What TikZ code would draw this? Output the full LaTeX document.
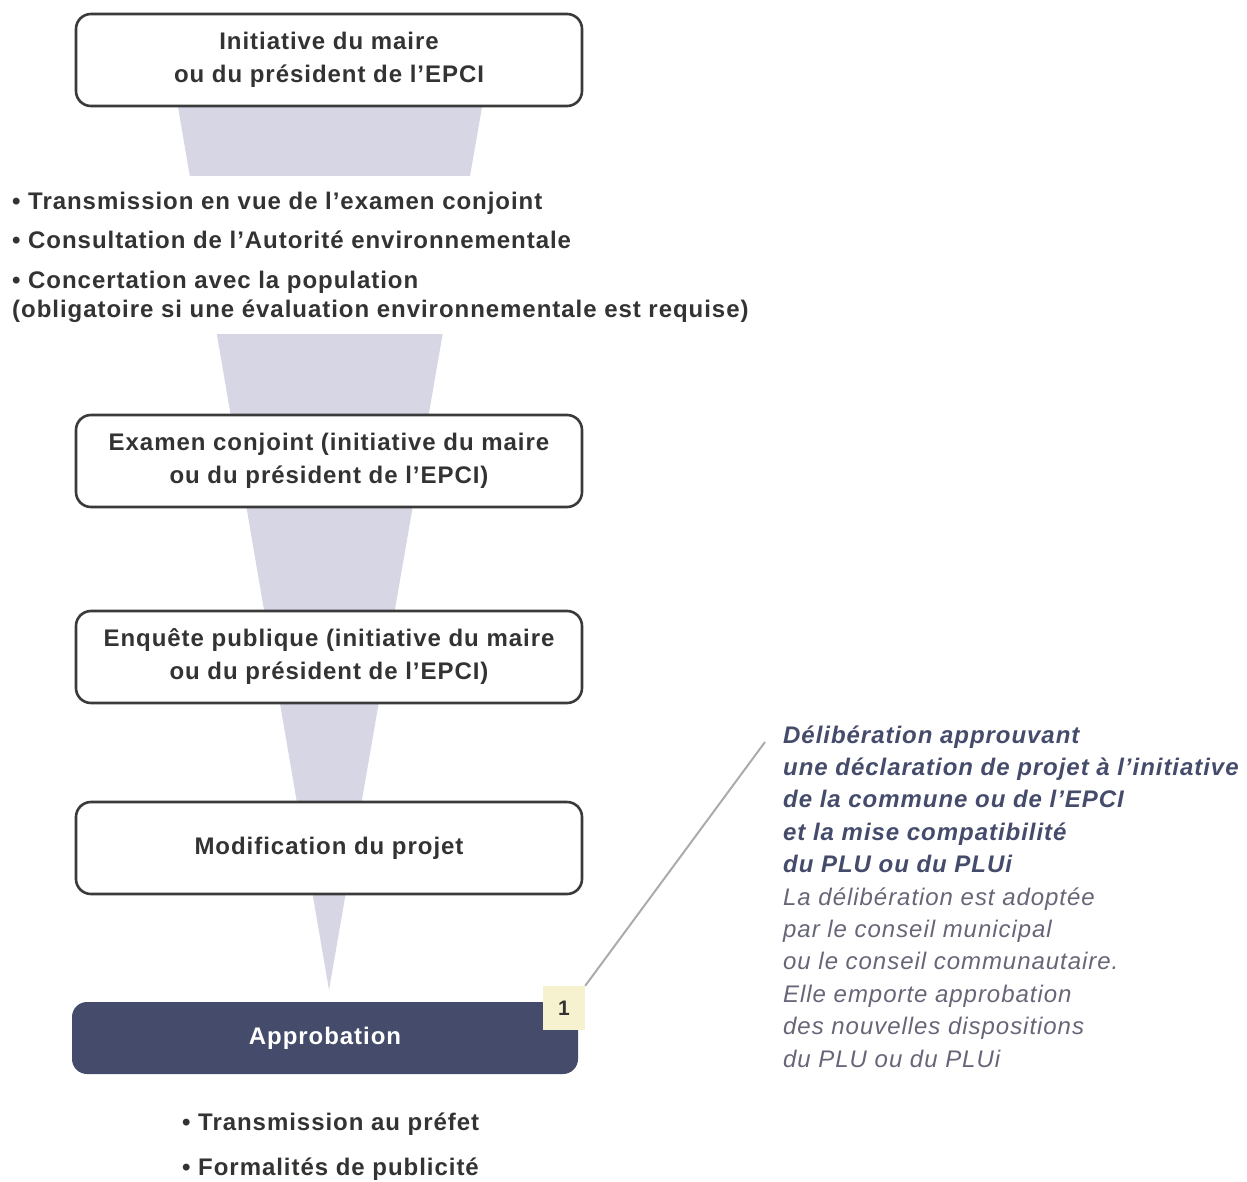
\documentclass[tikz,border=0pt]{standalone}
\usepackage{fontspec}
\setmainfont{Liberation Sans}[LetterSpace=4]
\definecolor{funnel}{HTML}{D6D6E4}
\definecolor{navy}{HTML}{454C6B}
\definecolor{txt}{HTML}{333333}
\definecolor{bord}{HTML}{3A3A3A}
\definecolor{badge}{HTML}{F6F1CF}
\definecolor{lead}{HTML}{ABABAB}
\definecolor{soft}{HTML}{666678}
\tikzset{
  stepbox/.style={draw=bord, line width=2.6pt, rounded corners=15pt, fill=white,
    minimum width=506pt, minimum height=92pt, align=center, text=txt,
    font=\fontsize{24}{33}\selectfont\bfseries},
  bul/.style={anchor=base west, inner sep=0pt, text=txt, font=\fontsize{24}{30}\selectfont\bfseries},
  rbold/.style={anchor=base west, inner sep=0pt, text=navy, font=\fontsize{24}{30}\selectfont\bfseries\itshape},
  rlight/.style={anchor=base west, inner sep=0pt, text=soft, font=\fontsize{24}{30}\selectfont\itshape},
}
\begin{document}
\begin{tikzpicture}[x=1pt,y=-1pt]
\useasboundingbox (0,0) rectangle (1247,1182);
% funnel
\fill[funnel] (178,107) -- (482,107) -- (329,990) -- cycle;
% white band behind bullet text
\fill[white] (0,176) rectangle (610,334);
% boxes
\node[stepbox] (b1) at (329,60) {Initiative du maire\\ou du président de l’EPCI};
\node[stepbox] (b2) at (329,461) {Examen conjoint (initiative du maire\\ou du président de l’EPCI)};
\node[stepbox] (b3) at (329,657) {Enquête publique (initiative du maire\\ou du président de l’EPCI)};
\node[stepbox] (b4) at (329,848) {Modification du projet};
\node[fill=navy, rounded corners=15pt, minimum width=506pt, minimum height=72pt,
  text=white, font=\fontsize{24}{30}\selectfont\bfseries] (ap) at (325,1038) {Approbation};
% badge
\node[fill=badge, minimum width=42pt, minimum height=44pt, inner sep=0pt,
  text=txt, font=\fontsize{21}{26}\selectfont\bfseries] (bd) at (564,1008) {1};
% leader line
\coordinate (lt) at (765,742);
\draw[lead, line width=2pt] (bd.north east) -- (lt);
% top bullets
\node[bul] (t1) at (12,210) {• Transmission en vue de l’examen conjoint};
\node[bul] (t2) at (12,249) {• Consultation de l’Autorité environnementale};
\node[bul] (t3) at (12,288) {• Concertation avec la population};
\node[bul] (t4) at (12,317) {(obligatoire si une évaluation environnementale est requise)};
% bottom bullets
\node[bul] (u1) at (182,1130) {• Transmission au préfet};
\node[bul] (u2) at (182,1175) {• Formalités de publicité};
% right text
\node[rbold] (r1) at (783,743) {Délibération approuvant};
\node[rbold] (r2) at (783,775.4) {une déclaration de projet à l’initiative};
\node[rbold] (r3) at (783,807.8) {de la commune ou de l’EPCI};
\node[rbold] (r4) at (783,840.2) {et la mise compatibilité};
\node[rbold] (r5) at (783,872.6) {du PLU ou du PLUi};
\node[rlight] (r6) at (783,905) {La délibération est adoptée};
\node[rlight] (r7) at (783,937.4) {par le conseil municipal};
\node[rlight] (r8) at (783,969.8) {ou le conseil communautaire.};
\node[rlight] (r9) at (783,1002.2) {Elle emporte approbation};
\node[rlight] (r10) at (783,1034.6) {des nouvelles dispositions};
\node[rlight] (r11) at (783,1067) {du PLU ou du PLUi};
\end{tikzpicture}
\end{document}
